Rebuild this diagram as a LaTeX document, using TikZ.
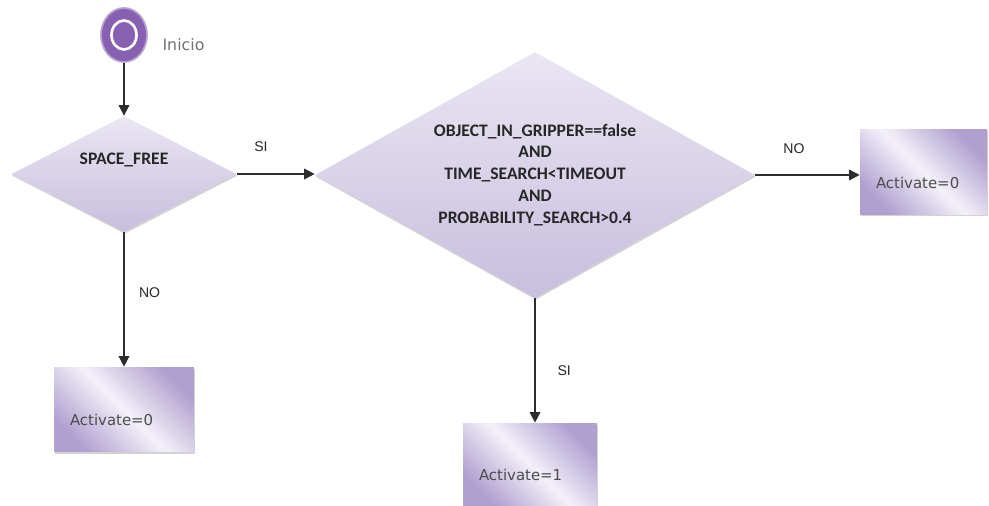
\documentclass[tikz,border=0pt]{standalone}
\usepackage{fontspec}
\newfontfamily\boxfont{DejaVu Sans}
\newfontfamily\condfont{Carlito}
\newfontfamily\labelfont{Liberation Sans}
\usetikzlibrary{shapes.geometric, arrows.meta, positioning, shadows}
\usepackage{xcolor}
\definecolor{FlowPurple}{RGB}{136, 96, 178}
\definecolor{CondTop}{RGB}{234, 230, 243}
\definecolor{CondBottom}{RGB}{200, 190, 222}
\definecolor{BoxDark}{RGB}{176, 160, 208}
\definecolor{BoxLight}{RGB}{244, 241, 249}
\definecolor{ArrowGrey}{RGB}{45, 45, 45}

\tikzset{
  decision/.style={diamond, draw=none, top color=CondTop, bottom color=CondBottom, inner sep=0pt, align=center,
    font=\condfont\bfseries\fontsize{10}{12.5}\selectfont, text=black!85,
    drop shadow={shadow xshift=0.4pt, shadow yshift=-1pt, fill=black!50, opacity=0.35}},
  action/.style={rectangle, draw=none, left color=BoxDark, right color=BoxDark, middle color=BoxLight, shading angle=-45,
    minimum height=1.7cm, inner xsep=0.32cm, text height=0.7cm, text depth=0.05cm, align=left,
    font=\boxfont\fontsize{8.5}{10}\selectfont, text=black!70,
    drop shadow={shadow xshift=0.4pt, shadow yshift=-1pt, fill=black!50, opacity=0.35}},
  flow/.style={-{Triangle[width=6pt, length=6pt]}, ArrowGrey, line width=0.9pt},
  branch/.style={font=\labelfont\fontsize{8}{9}\selectfont, text=black!85, inner sep=1pt}
}

\begin{document}
\begin{tikzpicture}[x=0.02cm, y=-0.02cm]
\useasboundingbox (0,0) rectangle (989,506);

% start point
\node[ellipse, fill=FlowPurple, draw=FlowPurple!60, line width=1pt, minimum width=0.92cm, minimum height=1.08cm,
  label={[font=\boxfont\fontsize{9}{10}\selectfont, text=black!55, label distance=0.17cm, yshift=-0.2cm]east:Inicio}] (start) at (124,35) {};
\node[ellipse, draw=white, line width=1.5pt, minimum width=0.5cm, minimum height=0.58cm] (startring) at (start.center) {};

% decisions
\node[decision, aspect=1.92, minimum width=4.5cm, minimum height=2.32cm, text depth=0.6cm] (sfree) at (124,174) {SPACE\_FREE};
\node[decision, aspect=1.79, minimum width=8.8cm, minimum height=4.92cm] (cond) at (535,175)
  {OBJECT\_IN\_GRIPPER==false\\AND\\TIME\_SEARCH<TIMEOUT\\AND\\PROBABILITY\_SEARCH>0.4};

% actions
\node[action, text width=1.9cm] (actr) at (923.5,172) {Activate=0};
\node[action, text width=2.16cm] (actl) at (124,409.5) {Activate=0};
\node[action, text width=2.04cm, minimum height=1.66cm] (act1) at (530,464.5) {Activate=1};

% connectors
\draw[flow] (start) -- (sfree);
\draw[flow] (sfree.east) -- node[branch, pos=0.31, above=0.4cm] (sfreeyes) {SI} (sfree.east -| cond.west);
\draw[flow] (cond.east) -- node[branch, pos=0.37, above=0.38cm] (condno) {NO} (cond.east -| actr.west);
\draw[flow] (sfree) -- node[branch, pos=0.45, right=0.25cm] (sfreeno) {NO} (actl);
\draw[flow] (cond.south) -- node[branch, pos=0.58, right=0.4cm] (condyes) {SI} (cond.south |- act1.north);

\end{tikzpicture}
\end{document}
